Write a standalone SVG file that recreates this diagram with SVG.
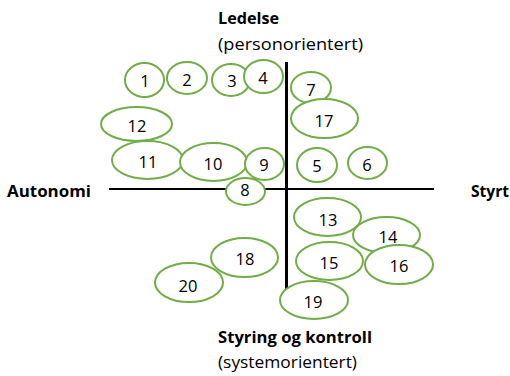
<svg xmlns="http://www.w3.org/2000/svg" width="510" height="376" viewBox="0 0 510 376">
<style>
.n ellipse{fill:#fff;stroke:#70AD47;stroke-width:2}
.n text{font-family:"Open Sans","Liberation Sans",sans-serif;font-size:16.5px;fill:#000;text-anchor:middle}
.lb{font-family:"Open Sans","Liberation Sans",sans-serif;font-size:16px;fill:#000}
.b{font-weight:bold}
</style>
<rect width="510" height="376" fill="#fff"/>
<g id="axes">
<line x1="109" y1="189" x2="434" y2="189" stroke="#000" stroke-width="2.2"/>
<line x1="286.5" y1="62" x2="286.5" y2="290" stroke="#000" stroke-width="3"/>
</g>
<g id="labels">
<text class="lb b" x="218" y="24" textLength="61" lengthAdjust="spacingAndGlyphs">Ledelse</text>
<text class="lb" x="218" y="50" textLength="145" lengthAdjust="spacingAndGlyphs">(personorientert)</text>
<text class="lb b" x="7" y="197" textLength="84" lengthAdjust="spacingAndGlyphs">Autonomi</text>
<text class="lb b" x="471" y="197" textLength="38" lengthAdjust="spacingAndGlyphs">Styrt</text>
<text class="lb b" x="218" y="343" textLength="154" lengthAdjust="spacingAndGlyphs">Styring og kontroll</text>
<text class="lb" x="218" y="368" textLength="139" lengthAdjust="spacingAndGlyphs">(systemorientert)</text>
</g>
<g id="n1" class="n"><ellipse cx="144.5" cy="80" rx="19.5" ry="17"/><text x="145" y="86.5">1</text></g>
<g id="n2" class="n"><ellipse cx="187" cy="78" rx="20" ry="16"/><text x="187" y="85.5">2</text></g>
<g id="n3" class="n"><ellipse cx="231" cy="80" rx="19" ry="16"/><text x="232" y="86.5">3</text></g>
<g id="n4" class="n"><ellipse cx="263.5" cy="76.5" rx="19.5" ry="16.5"/><text x="263" y="83.5">4</text></g>
<g id="n12" class="n"><ellipse cx="136.5" cy="124" rx="35.5" ry="17"/><text x="137" y="131.5">12</text></g>
<g id="n11" class="n"><ellipse cx="147.5" cy="160" rx="35.5" ry="19"/><text x="148" y="167.5">11</text></g>
<g id="n10" class="n"><ellipse cx="213.5" cy="162" rx="33.5" ry="19"/><text x="213" y="169.5">10</text></g>
<g id="n9" class="n"><ellipse cx="264.5" cy="164" rx="19.5" ry="16"/><text x="264" y="170.5">9</text></g>
<g id="n8" class="n"><ellipse cx="245.5" cy="191.5" rx="19.5" ry="13.5"/><text x="245" y="196">8</text></g>
<g id="n7" class="n"><ellipse cx="311" cy="87.5" rx="20" ry="15.5"/><text x="311" y="95.5">7</text></g>
<g id="n17" class="n"><ellipse cx="324.5" cy="118.5" rx="33.5" ry="19.5"/><text x="324" y="126.5">17</text></g>
<g id="n5" class="n"><ellipse cx="317" cy="165" rx="20" ry="17"/><text x="317" y="171.5">5</text></g>
<g id="n6" class="n"><ellipse cx="367.5" cy="163" rx="19.5" ry="16"/><text x="367" y="170.5">6</text></g>
<g id="n13" class="n"><ellipse cx="327.5" cy="217" rx="33.5" ry="19"/><text x="328" y="225.5">13</text></g>
<g id="n14" class="n"><ellipse cx="386.5" cy="235" rx="33.5" ry="18"/><text x="388" y="242.5">14</text></g>
<g id="n15" class="n"><ellipse cx="329.5" cy="261" rx="33.5" ry="19"/><text x="329" y="268.5">15</text></g>
<g id="n16" class="n"><ellipse cx="399" cy="264.5" rx="34" ry="19.5"/><text x="399" y="271.5">16</text></g>
<g id="n18" class="n"><ellipse cx="244.5" cy="257.5" rx="33.5" ry="19.5"/><text x="245" y="264.5">18</text></g>
<g id="n20" class="n"><ellipse cx="189" cy="282.5" rx="34" ry="19.5"/><text x="188" y="291.5">20</text></g>
<g id="n19" class="n"><ellipse cx="314" cy="300" rx="34" ry="19"/><text x="313" y="307.5">19</text></g>
</svg>
